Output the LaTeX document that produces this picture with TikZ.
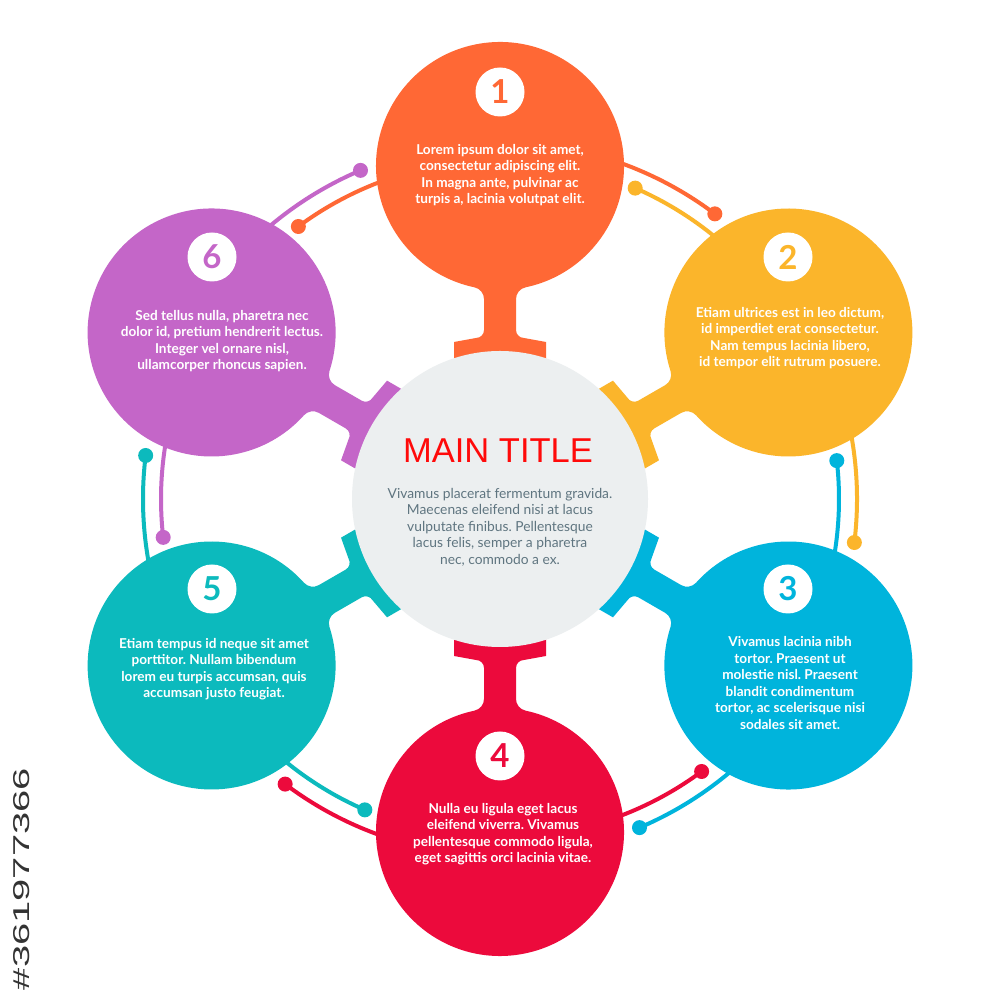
\documentclass[tikz,border=0pt]{standalone}
\usepackage{fontspec}
\setmainfont{Lato}
\newfontfamily\titlefont{Liberation Sans}
\definecolor{c1}{HTML}{FF6835}
\definecolor{c2}{HTML}{FBB52B}
\definecolor{c3}{HTML}{00B4DC}
\definecolor{c4}{HTML}{EC0A3C}
\definecolor{c5}{HTML}{0CBABD}
\definecolor{c6}{HTML}{C466C8}
\definecolor{cgray}{HTML}{ECEFF0}
\definecolor{ctext}{HTML}{5F7580}
\definecolor{ctitle}{HTML}{FF0A0A}
\newcommand\mypetal[2]{%
  \begin{scope}[shift={({500+333*cos(#1)},{501+333*sin(#1)})}, rotate=#1-90]
    \fill[#2] (-78.12:124) arc[start angle=-78.12, end angle=258.12, radius=124]
      arc[start angle=78.12, end angle=0, radius=12]
      -- (-16,-164) arc[start angle=0, end angle=-90, radius=8]
      -- (-46,-176) -- (-46,-215) -- (46,-215) -- (46,-176) -- (24,-172)
      arc[start angle=-90, end angle=-180, radius=8]
      -- (16,-133.09) arc[start angle=180, end angle=101.88, radius=12] -- cycle;
  \end{scope}}
\newcommand\myarcs[2]{%
  \draw[#2, line width=4] (M) ++(#1:357) arc[start angle=#1, end angle=#1-37, radius=357];
  \fill[#2] (M) ++(#1-37:357) circle[radius=7.5];
  \draw[#2, line width=4] (M) ++(#1:339) arc[start angle=#1, end angle=#1+36.5, radius=339];
  \fill[#2] (M) ++(#1+36.5:339) circle[radius=7.5];}
\tikzset{
  badge/.style={circle, fill=white, minimum size=49pt, inner sep=0pt, font=\bfseries\fontsize{33}{33}\selectfont},
  ptext/.style={text=white, align=center, inner sep=0pt, font=\frenchspacing\bfseries\fontsize{13.6}{16.5}\selectfont},
  ctxt/.style={text=ctext, align=center, inner sep=0pt, font=\frenchspacing\fontsize{13.8}{16.5}\selectfont},
}
\begin{document}
\begin{tikzpicture}[x=1pt,y=1pt]
\useasboundingbox (0,0) rectangle (1000,1000);
\fill[white] (0,0) rectangle (1000,1000);
\coordinate (M) at (500,501);
% arcs with dots
\myarcs{90}{c1}
\myarcs{30}{c2}
\myarcs{-30}{c3}
\myarcs{-90}{c4}
\myarcs{210}{c5}
\myarcs{150}{c6}
% petals
\mypetal{90}{c1}
\mypetal{30}{c2}
\mypetal{-30}{c3}
\mypetal{-90}{c4}
\mypetal{210}{c5}
\mypetal{150}{c6}
% main circle
\node[circle, fill=cgray, minimum size=296pt, inner sep=0pt] (main) at (M) {};
% badges
\node[badge, text=c1] (b1) at (500,908) {1};
\node[badge, text=c2] (b2) at (788,743) {2};
\node[badge, text=c3] (b3) at (788,411) {3};
\node[badge, text=c4] (b4) at (500,244) {4};
\node[badge, text=c5] (b5) at (212,411) {5};
\node[badge, text=c6] (b6) at (212,743) {6};
% texts
\node[ptext] (t1) at (500,825) {Lorem ipsum dolor sit amet,\\consectetur adipiscing elit.\\In magna ante, pulvinar ac\\turpis a, lacinia volutpat elit.};
\node[ptext] (t2) at (790,662) {Etiam ultrices est in leo dictum,\\id imperdiet erat consectetur.\\Nam tempus lacinia libero,\\id tempor elit rutrum posuere.};
\node[ptext] (t3) at (790,317) {Vivamus lacinia nibh\\tortor. Praesent ut\\molestie nisl. Praesent\\blandit condimentum\\tortor, ac scelerisque nisi\\sodales sit amet.};
\node[ptext] (t4) at (503,166) {Nulla eu ligula eget lacus\\eleifend viverra. Vivamus\\pellentesque commodo ligula,\\eget sagittis orci lacinia vitae.};
\node[ptext] (t5) at (214,331) {Etiam tempus id neque sit amet\\porttitor. Nullam bibendum\\lorem eu turpis accumsan, quis\\accumsan justo feugiat.};
\node[ptext] (t6) at (222,659) {Sed tellus nulla, pharetra nec\\dolor id, pretium hendrerit lectus.\\Integer vel ornare nisl,\\ullamcorper rhoncus sapien.};
\node[text=ctitle, inner sep=0pt, font=\titlefont\fontsize{34.5}{34.5}\selectfont] (title) at (498,549) {MAIN TITLE};
\node[ctxt] (ct) at (500,473) {Vivamus placerat fermentum gravida.\\Maecenas eleifend nisi at lacus\\vulputate finibus. Pellentesque\\lacus felis, semper a pharetra\\nec, commodo a ex.};
\node[rotate=90, text=black!80, inner sep=0pt, font=\titlefont] (id) at (22,121) {\resizebox{222pt}{16pt}{\#361977366}};
\end{tikzpicture}
\end{document}
